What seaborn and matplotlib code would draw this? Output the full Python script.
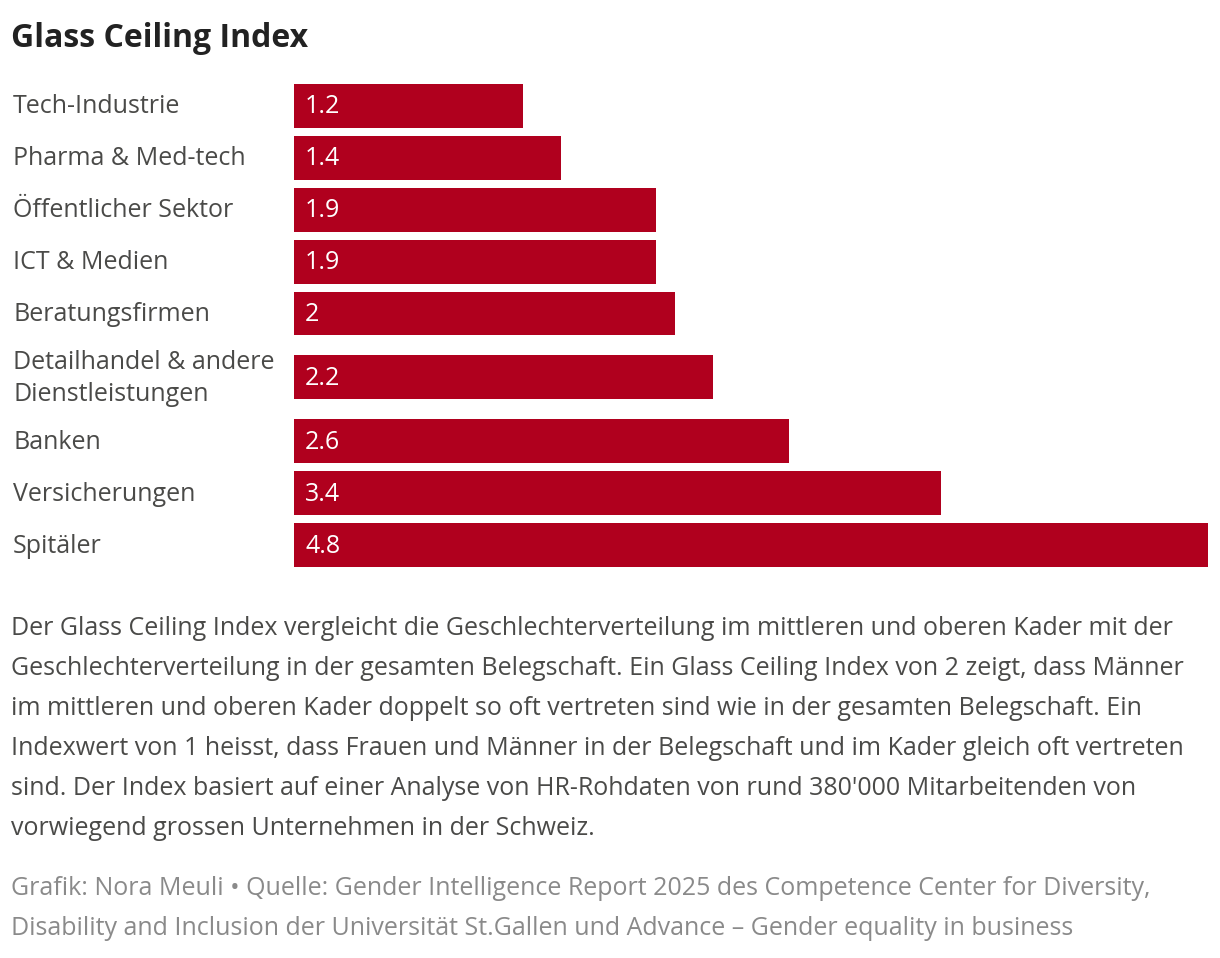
import matplotlib
matplotlib.use('Agg')
import seaborn as sns
import matplotlib.pyplot as plt
from matplotlib.transforms import ScaledTranslation, blended_transform_factory
import pandas as pd

sns.set_style('white')
plt.rcParams['font.family'] = ['Open Sans', 'DejaVu Sans']

# Daten
branchen = ['Tech-Industrie', 'Pharma & Med-tech', 'Öffentlicher Sektor', 'ICT & Medien',
            'Beratungsfirmen', 'Detailhandel & andere\nDienstleistungen', 'Banken',
            'Versicherungen', 'Spitäler']
werte = [1.2, 1.4, 1.9, 1.9, 2.0, 2.2, 2.6, 3.4, 4.8]
wert_labels = ['1.2', '1.4', '1.9', '1.9', '2', '2.2', '2.6', '3.4', '4.8']

titel = 'Glass Ceiling Index'
text_zeilen = [
    'Der Glass Ceiling Index vergleicht die Geschlechterverteilung im mittleren und oberen Kader mit der',
    'Geschlechterverteilung in der gesamten Belegschaft. Ein Glass Ceiling Index von 2 zeigt, dass Männer',
    'im mittleren und oberen Kader doppelt so oft vertreten sind wie in der gesamten Belegschaft. Ein',
    'Indexwert von 1 heisst, dass Frauen und Männer in der Belegschaft und im Kader gleich oft vertreten',
    'sind. Der Index basiert auf einer Analyse von HR-Rohdaten von rund 380\'000 Mitarbeitenden von',
    'vorwiegend grossen Unternehmen in der Schweiz.',
]
quelle_zeilen = [
    'Grafik: Nora Meuli • Quelle: Gender Intelligence Report 2025 des Competence Center for Diversity,',
    'Disability and Inclusion der Universität St.Gallen und Advance – Gender equality in business',
]

ROT = '#b0001e'
GRAU = '#4a4a48'
HELLGRAU = '#8a8a8a'

# Zeilenpositionen: mehrzeilige Labels bekommen mehr Platz
hoehen = [1 + 0.4615 * (b.count('\n')) for b in branchen]
pos = []
for i, h in enumerate(hoehen):
    pos.append(0 if i == 0 else pos[-1] + (hoehen[i - 1] + h) / 2)

df = pd.DataFrame({'branche': branchen, 'wert': werte, 'pos': pos})

W, H = 1220, 958
fig = plt.figure(figsize=(W / 100, H / 100), dpi=100)
ax = fig.add_axes([294 / W, 1 - 567 / H, (1208 - 294) / W, (567 - 84) / H])

sns.barplot(data=df, x='wert', y='pos', orient='h', native_scale=True,
            color=ROT, saturation=1, width=0.846, linewidth=0, ax=ax)
ax.set_xlim(0, 4.8)
ax.set_ylim(pos[-1] + 0.423, -0.423)
ax.set_axis_off()

px = fig.dpi_scale_trans
lab_trans = blended_transform_factory(fig.transFigure, ax.transData)
for y, b, lab in zip(pos, branchen, wert_labels):
    zeilen = b.split('\n')
    n = len(zeilen)
    for k, z in enumerate(zeilen):
        off = 7.5 + (k - (n - 1) / 2) * 32
        ax.text(13 / W, y, z, transform=lab_trans + ScaledTranslation(0, -off / 100, px),
                fontsize=18, color=GRAU, va='baseline', ha='left')
    ax.text(0, y, lab, transform=ax.transData + ScaledTranslation(11 / 100, -7.5 / 100, px),
            fontsize=18, color='white', va='baseline', ha='left')

fig.text(11 / W, 1 - 47 / H, titel, fontsize=23, fontweight='bold', color='#222222',
         va='baseline', ha='left')

for i, z in enumerate(text_zeilen):
    fig.text(11 / W, 1 - (635 + 40 * i) / H, z, fontsize=18, color=GRAU,
             va='baseline', ha='left')
for i, z in enumerate(quelle_zeilen):
    fig.text(11 / W, 1 - (895 + 40 * i) / H, z, fontsize=18, color=HELLGRAU,
             va='baseline', ha='left')

fig.savefig('out.png', dpi=100, facecolor='white')
